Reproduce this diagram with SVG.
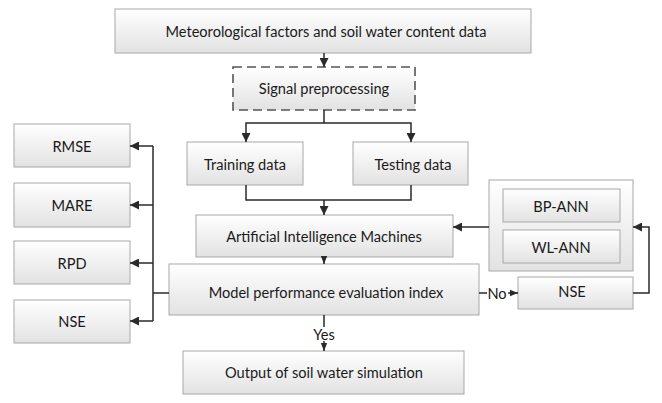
<svg xmlns="http://www.w3.org/2000/svg" width="662" height="403" viewBox="0 0 662 403">
<defs>
<linearGradient id="g" x1="0" y1="0" x2="0" y2="1">
<stop offset="0" stop-color="#ffffff"/>
<stop offset="1" stop-color="#e2e2e2"/>
</linearGradient>
<marker id="ah" viewBox="0 0 10 10" refX="10" refY="5" markerWidth="9" markerHeight="9" markerUnits="userSpaceOnUse" orient="auto">
<path d="M0,0 L10,5 L0,10 Z" fill="#2a2a2a"/>
</marker>
<marker id="as" viewBox="0 0 10 10" refX="10" refY="5" markerWidth="8" markerHeight="8" markerUnits="userSpaceOnUse" orient="auto">
<path d="M0,1 L10,5 L0,9 Z" fill="#2a2a2a"/>
</marker>
</defs>
<style>
.b{fill:url(#g);stroke:#a8a8a8;stroke-width:1}
.d{fill:url(#g);stroke:#555;stroke-width:1.6;stroke-dasharray:9 5}
.t{font-family:Lato,"Liberation Sans",sans-serif;font-size:14.6px;fill:#1a1a1a;text-anchor:middle;dominant-baseline:central}
.c{fill:none;stroke:#2a2a2a;stroke-width:1.5}
.o{fill:url(#g);stroke:#a8a8a8;stroke-width:1}
</style>
<rect width="662" height="403" fill="#ffffff"/>

<g id="n-meteo">
<rect class="b" x="115" y="9" width="416" height="44"/>
<text class="t" x="326" y="31">Meteorological factors and soil water content data</text>
</g>
<g id="n-signal">
<rect class="d" x="233" y="67" width="182" height="43"/>
<text class="t" x="324" y="88">Signal preprocessing</text>
</g>
<g id="n-training">
<rect class="b" x="187" y="142" width="116" height="43"/>
<text class="t" x="245" y="164">Training data</text>
</g>
<g id="n-testing">
<rect class="b" x="353" y="142" width="115" height="43"/>
<text class="t" x="413" y="164">Testing data</text>
</g>
<g id="n-aim">
<rect class="b" x="196" y="215" width="257" height="42"/>
<text class="t" x="324" y="236">Artificial Intelligence Machines</text>
</g>
<g id="n-model">
<rect class="b" x="169" y="264" width="310" height="51"/>
<text class="t" x="326" y="292">Model performance evaluation index</text>
</g>
<g id="n-output">
<rect class="b" x="183" y="351" width="281" height="43"/>
<text class="t" x="324" y="372">Output of soil water simulation</text>
</g>
<g id="n-rmse">
<rect class="b" x="14" y="124" width="116" height="43"/>
<text class="t" x="72" y="146">RMSE</text>
</g>
<g id="n-mare">
<rect class="b" x="14" y="183" width="116" height="44"/>
<text class="t" x="72" y="205">MARE</text>
</g>
<g id="n-rpd">
<rect class="b" x="14" y="241" width="116" height="43"/>
<text class="t" x="72" y="263">RPD</text>
</g>
<g id="n-nse-left">
<rect class="b" x="14" y="300" width="116" height="43"/>
<text class="t" x="72" y="321">NSE</text>
</g>
<g id="n-ann-group">
<rect class="o" x="489" y="180" width="144" height="91"/>
</g>
<g id="n-bpann">
<rect class="b" x="503" y="189" width="117" height="33"/>
<text class="t" x="561" y="206">BP-ANN</text>
</g>
<g id="n-wlann">
<rect class="b" x="503" y="230" width="117" height="33"/>
<text class="t" x="561" y="247">WL-ANN</text>
</g>
<g id="n-nse-right">
<rect class="b" x="518" y="277" width="115" height="32"/>
<text class="t" x="572" y="291">NSE</text>
</g>

<g id="connectors">
<path class="c" d="M324,53 V67" marker-end="url(#ah)"/>
<path class="c" d="M324,110 V123 H246 V142" marker-end="url(#ah)"/>
<path class="c" d="M324,123 H411 V142" marker-end="url(#ah)"/>
<path class="c" d="M246,185 V200 H411 V185"/>
<path class="c" d="M324,200 V215" marker-end="url(#ah)"/>
<path class="c" d="M324,257 V264" marker-end="url(#as)"/>
<path class="c" d="M324,315 V327"/>
<text class="t" x="324" y="334">Yes</text>
<path class="c" d="M324,341 V351" marker-end="url(#as)"/>
<path class="c" d="M169,293 H153"/>
<path class="c" d="M153,146 V321"/>
<path class="c" d="M153,146 H130" marker-end="url(#ah)"/>
<path class="c" d="M153,205 H130" marker-end="url(#ah)"/>
<path class="c" d="M153,263 H130" marker-end="url(#ah)"/>
<path class="c" d="M153,321 H130" marker-end="url(#ah)"/>
<path class="c" d="M489,227 H453" marker-end="url(#ah)"/>
<path class="c" d="M479,293 H487"/>
<text class="t" x="497" y="293">No</text>
<path class="c" d="M508,293 H518" marker-end="url(#as)"/>
<path class="c" d="M633,293 H649 V227 H633" marker-end="url(#ah)"/>
</g>
</svg>
